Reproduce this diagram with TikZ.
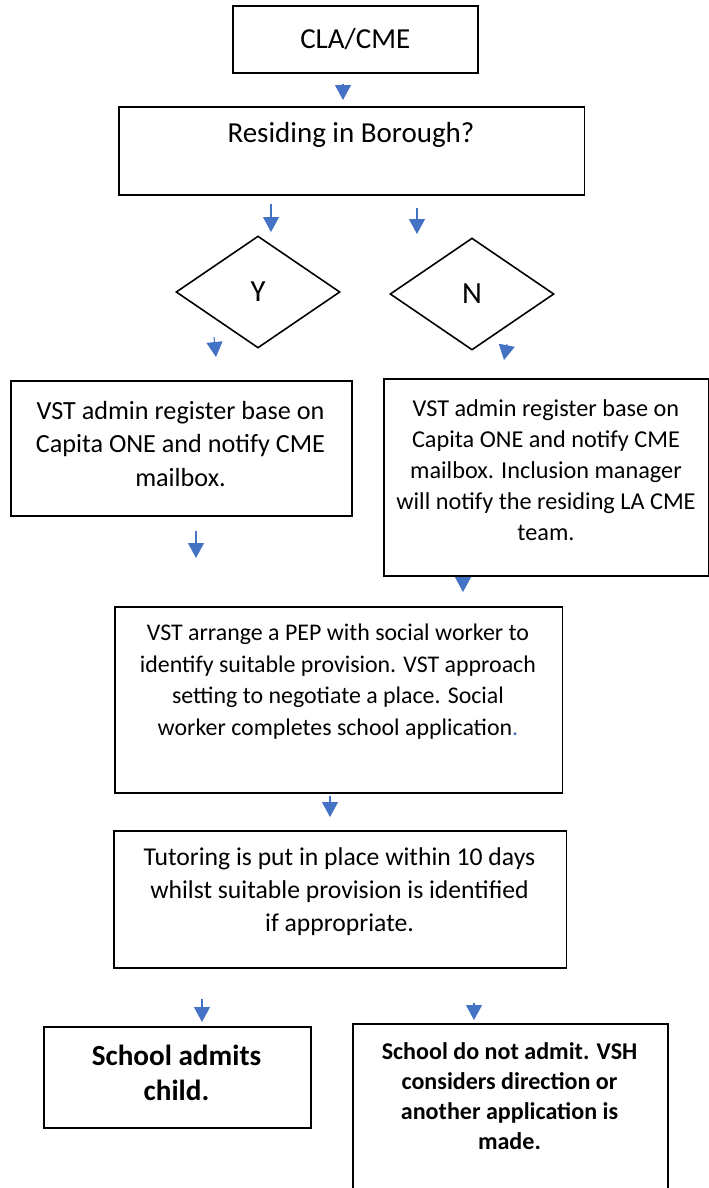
\documentclass[tikz,border=0pt]{standalone}
\usepackage{fontspec}
\setmainfont{Carlito}
\usetikzlibrary{positioning,shapes.geometric,arrows.meta}

\definecolor{arrowblue}{HTML}{4472C4}

\tikzset{
  box/.style={draw, line width=0.9pt, anchor=north west, inner sep=0pt},
  choice/.style={draw, diamond, line width=0.9pt, inner sep=0pt,
    minimum width=3.28cm, minimum height=2.24cm},
  txt/.style={align=center, inner sep=0pt},
  flowarrow/.style={draw=arrowblue, line width=0.6pt,
    -{Triangle[width=0.32cm,length=0.3cm]}},
}

\begin{document}
\begin{tikzpicture}[x=0.02cm, y=-0.02cm]
    \useasboundingbox (0,0) rectangle (709,1188);
    \clip (0,0) rectangle (709,1188);

    % boxes
    \node[box,minimum width=4.9cm,minimum height=1.34cm] (cla) at (232,5) {};
    \node[box,minimum width=9.32cm,minimum height=1.76cm] (borough) at (118,106) {};
    \node[choice] (yes) at (258,292) {\fontsize{17.5}{20}\selectfont Y};
    \node[choice] (no) at (472,294) {\fontsize{17.5}{20}\selectfont N};
    \node[box,minimum width=6.82cm,minimum height=2.7cm] (regin) at (10,380) {};
    \node[box,minimum width=6.5cm,minimum height=3.94cm] (regout) at (383,378) {};
    \node[box,minimum width=8.96cm,minimum height=3.72cm] (pep) at (114,606) {};
    \node[box,minimum width=9.06cm,minimum height=2.74cm] (tutor) at (113,830) {};
    \node[box,minimum width=5.34cm,minimum height=2.02cm] (admit) at (43,1026) {};
    \node[box,minimum width=6.3cm,minimum height=3.6cm] (noadmit) at (352,1023) {};

    % texts
    \node[txt,font=\fontsize{16.5}{19}\selectfont] (clatext) at (cla.center) {CLA/CME};
    \node[txt,font=\fontsize{16.5}{20}\selectfont] (boroughtext) at (351,135) {Residing in Borough?};
    \node[txt,font=\fontsize{14.9}{19.3}\selectfont] (regintext) at (180.5,444)
        {VST admin register base on\\Capita ONE and notify CME\\mailbox.};
    \node[txt,font=\fontsize{13.8}{17.6}\selectfont] (regouttext) at (546,470)
        {VST admin register base on\\Capita ONE and notify CME\\mailbox. Inclusion manager\\will notify the residing LA CME\\team.};
    \node[txt,font=\fontsize{13.6}{18}\selectfont] (peptext) at (338,681.5)
        {VST arrange a PEP with social worker to\\identify suitable provision. VST approach\\setting to negotiate a place. Social\\worker completes school application{\color{arrowblue}.}};
    \node[txt,font=\fontsize{14.6}{18.8}\selectfont] (tutortext) at (339.5,892)
        {Tutoring is put in place within 10 days\\whilst suitable provision is identified\\if appropriate.};
    \node[txt,font=\fontsize{16.6}{20}\selectfont\bfseries] (admittext) at (176.5,1072.5)
        {School admits\\child.};
    \node[txt,font=\fontsize{13.7}{17}\selectfont\bfseries] (noadmittext) at (509.5,1096)
        {School do not admit. VSH\\considers direction or\\another application is\\made.};

    % arrows between the boxes
    \foreach \n/\xa/\ya/\xb/\yb in {1/343/84/343/100, 2/271/204/271/232,
        3/417/208/417/234, 4/214/337/216/357, 5/507/344/504/360,
        6/196/531/196/558, 7/463/577/463/592, 8/330/796/330/817,
        9/202/999/202/1022, 10/474/1003/474/1020}{
        \coordinate (from\n) at (\xa,\ya);
        \coordinate (to\n) at (\xb,\yb);
        \draw[flowarrow] (from\n) -- (to\n);
    }
\end{tikzpicture}
\end{document}
